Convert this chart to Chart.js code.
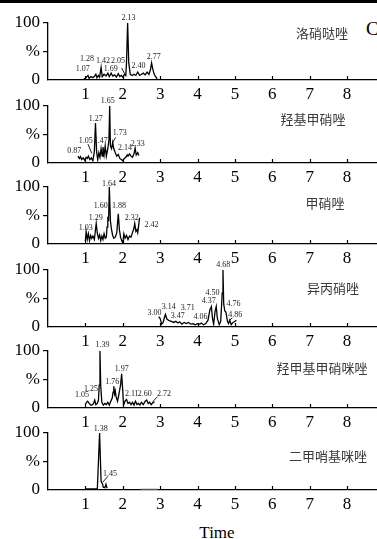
<!DOCTYPE html>
<html lang="zh">
<head>
<meta charset="UTF-8">
<title>色谱图</title>
<script src="https://cdn.jsdelivr.net/npm/chart.js"></script>
<style>
  body { margin: 0; background: #fff; }
  #wrap { position: relative; width: 377px; height: 539px; overflow: hidden; background: #fff; }
  #wrap canvas { position: absolute; left: 0; }
  .topline { position: absolute; left: 0; top: 0; width: 377px; height: 3px; background: #000; }
  .name {
    position: absolute; transform: translate(-50%, -50%); white-space: nowrap;
    font-family: 'Noto Sans CJK SC', sans-serif; font-size: 13px; color: #3a3a3a;
  }
  .serif { position: absolute; font-family: 'Liberation Serif', 'Times New Roman', serif; color: #000; }
</style>
</head>
<body>
<div id="wrap">
  <div class="topline"></div>
  <div class="serif" style="left:366px;top:18px;font-size:19px;">C</div>
  <div class="serif" style="left:217px;top:533px;font-size:17px;transform:translate(-50%,-50%);">Time</div>
</div>
<script>
// 化合物名称
const names = ['洛硝哒唑', '羟基甲硝唑', '甲硝唑', '异丙硝唑', '羟甲基甲硝咪唑', '二甲哨基咪唑'];
const xTicks = [1, 2, 3, 4, 5, 6, 7, 8];

// 色谱曲线 [时间, 相对强度%]
const trace1 = [[0.96,2],[1.0,3],[1.03,5],[1.07,8],[1.1,3],[1.15,6],[1.2,4],[1.25,7],[1.28,10],[1.31,4],[1.35,8],[1.38,5],[1.42,22],[1.45,6],[1.5,10],[1.55,7],[1.6,12],[1.64,6],[1.69,12],[1.73,7],[1.78,9],[1.83,5],[1.88,11],[1.92,6],[1.96,8],[2.0,5],[2.05,10],[2.08,8],[2.1,30],[2.13,100],[2.16,30],[2.2,10],[2.25,8],[2.3,10],[2.35,8],[2.4,14],[2.45,8],[2.5,10],[2.55,12],[2.6,9],[2.65,14],[2.7,10],[2.74,18],[2.77,30],[2.8,20],[2.84,10],[2.88,6],[2.92,2]];
const trace2 = [[0.8,12],[0.84,8],[0.87,11],[0.9,6],[0.94,9],[0.98,5],[1.02,10],[1.05,8],[1.08,12],[1.12,6],[1.16,9],[1.2,4],[1.24,20],[1.27,70],[1.3,20],[1.33,6],[1.36,18],[1.39,10],[1.42,25],[1.45,12],[1.47,28],[1.5,14],[1.53,30],[1.56,12],[1.6,25],[1.63,40],[1.65,100],[1.67,30],[1.7,25],[1.73,36],[1.76,25],[1.8,18],[1.84,12],[1.88,15],[1.92,8],[1.96,6],[2.0,4],[2.04,8],[2.08,10],[2.12,14],[2.14,12],[2.18,16],[2.22,12],[2.26,10],[2.3,16],[2.33,26],[2.36,14],[2.4,18],[2.43,13]];
const trace3 = [[1.0,5],[1.02,22],[1.05,8],[1.08,18],[1.11,6],[1.14,15],[1.17,10],[1.2,14],[1.24,8],[1.27,25],[1.29,36],[1.32,18],[1.35,10],[1.38,16],[1.41,6],[1.44,14],[1.47,8],[1.5,18],[1.53,10],[1.56,12],[1.58,30],[1.6,48],[1.62,40],[1.64,100],[1.67,40],[1.7,25],[1.73,15],[1.76,10],[1.8,12],[1.84,20],[1.88,53],[1.91,25],[1.94,12],[1.97,6],[2.0,2],[2.03,18],[2.06,10],[2.1,15],[2.14,8],[2.18,14],[2.22,12],[2.26,20],[2.3,28],[2.32,36],[2.35,22],[2.38,25],[2.4,20],[2.42,30],[2.45,46]];
const trace4 = [[2.96,18],[3.0,15],[3.04,5],[3.08,8],[3.12,18],[3.14,22],[3.18,14],[3.24,11],[3.3,10],[3.36,8],[3.42,10],[3.47,7],[3.52,9],[3.58,5],[3.64,8],[3.7,6],[3.76,8],[3.82,5],[3.88,6],[3.94,4],[4.0,6],[4.06,5],[4.1,7],[4.16,4],[4.22,6],[4.28,12],[4.33,30],[4.37,36],[4.4,15],[4.43,5],[4.47,28],[4.5,36],[4.53,15],[4.58,4],[4.62,10],[4.66,60],[4.68,100],[4.7,40],[4.73,28],[4.76,26],[4.8,10],[4.83,6],[4.86,12],[4.9,4],[4.95,8],[5.0,10],[5.04,12]];
const trace5 = [[1.0,6],[1.03,10],[1.06,12],[1.1,8],[1.15,5],[1.2,6],[1.23,10],[1.25,14],[1.28,6],[1.32,8],[1.35,14],[1.37,40],[1.39,100],[1.41,40],[1.44,10],[1.48,5],[1.52,8],[1.56,6],[1.6,10],[1.64,5],[1.68,12],[1.72,18],[1.74,28],[1.76,38],[1.78,25],[1.8,30],[1.82,20],[1.86,12],[1.9,25],[1.94,40],[1.97,60],[2.0,30],[2.02,5],[2.06,12],[2.1,15],[2.14,8],[2.18,10],[2.22,6],[2.26,10],[2.3,5],[2.34,12],[2.38,6],[2.42,8],[2.46,5],[2.5,10],[2.55,6],[2.6,12],[2.64,14],[2.68,8],[2.72,10],[2.76,6],[2.8,9],[2.85,11]];
const trace6 = [[1.0,2],[1.32,2],[1.38,100],[1.42,15],[1.45,12],[1.48,5],[1.52,4],[1.55,10],[1.58,3]];
const trace6b = [[2.48,1.5],[2.93,1.5]];

// 峰标注 [标注位置时间, 标注高度%, 文本]
const peaks1 = [[2.15,109,'2.13'],[1.04,37,'1.28'],[1.47,33,'1.42'],[1.87,33,'2.05'],[0.93,19,'1.07'],[1.68,19,'1.69'],[2.42,25,'2.40'],[2.83,40,'2.77']];
const peaks2 = [[1.6,109,'1.65'],[1.28,78,'1.27'],[1.01,38,'1.05'],[1.41,38,'1.47'],[1.92,52,'1.73'],[0.7,22,'0.87'],[2.06,26,'2.14'],[2.4,34,'2.33']];
const peaks3 = [[1.63,105,'1.64'],[1.41,67,'1.60'],[1.9,67,'1.88'],[1.28,45,'1.29'],[1.01,29,'1.03'],[2.24,45,'2.32'],[2.77,34,'2.42']];
const peaks4 = [[4.69,109,'4.68'],[4.4,60,'4.50'],[4.3,46,'4.37'],[4.96,40,'4.76'],[5.01,21,'4.86'],[2.85,25,'3.00'],[3.23,35,'3.14'],[3.47,19,'3.47'],[3.74,33,'3.71'],[4.08,18,'4.06']];
const peaks5 = [[1.46,110,'1.39'],[1.97,68,'1.97'],[1.72,45,'1.76'],[1.15,34,'1.25'],[0.91,23,'1.05'],[2.24,25,'2.11'],[2.59,25,'2.60'],[3.1,25,'2.72']];
const peaks6 = [[1.41,107,'1.38'],[1.66,29,'1.45']];

// 引线 [t1, y1, t2, y2]
const leaders1 = [[1.97,21,2.05,11]];
const leaders2 = [[1.07,33,1.17,17],[1.81,45,1.73,36]];
const leaders3 = [];
const leaders4 = [[4.93,16,4.86,12]];
const leaders5 = [[2.93,20,2.8,11]];
const leaders6 = [[1.6,24,1.47,14]];

const traces = [trace1, trace2, trace3, trace4, trace5, trace6];
const peakSets = [peaks1, peaks2, peaks3, peaks4, peaks5, peaks6];
const leaderSets = [leaders1, leaders2, leaders3, leaders4, leaders5, leaders6];

// 版面
const baselines = [80, 163, 244, 327, 408, 490];
const namePos = [[322,32],[313,118],[325,202],[333,287],[322,367],[328,455]];
const PAD_TOP = 15, PLOT_H = 57, AXIS_H = 24;
const serif = "'Liberation Serif', 'Times New Roman', serif";

const wrap = document.getElementById('wrap');

const extras = {
  id: 'extras',
  afterDraw(chart, args, opts) {
    const ctx = chart.ctx;
    const xs = chart.scales.x, ys = chart.scales.y;
    const bottom = chart.chartArea.bottom;
    ctx.save();
    ctx.strokeStyle = '#000';
    ctx.lineWidth = 1.2;
    // 内向刻度
    xTicks.forEach(v => {
      const px = Math.round(xs.getPixelForValue(v)) + 0.5;
      ctx.beginPath();
      ctx.moveTo(px, bottom);
      ctx.lineTo(px, bottom - 4);
      ctx.stroke();
    });
    // 引线
    ctx.lineWidth = 0.9;
    opts.leaders.forEach(l => {
      ctx.beginPath();
      ctx.moveTo(xs.getPixelForValue(l[0]), ys.getPixelForValue(l[1]));
      ctx.lineTo(xs.getPixelForValue(l[2]), ys.getPixelForValue(l[3]));
      ctx.stroke();
    });
    // 峰标注
    ctx.fillStyle = '#222';
    ctx.font = '8px ' + serif;
    ctx.textAlign = 'center';
    ctx.textBaseline = 'middle';
    opts.peaks.forEach(p => {
      ctx.fillText(p[2], xs.getPixelForValue(p[0]), ys.getPixelForValue(p[1]));
    });
    ctx.restore();
  }
};

traces.forEach((tr, i) => {
  const canvas = document.createElement('canvas');
  const h = PAD_TOP + PLOT_H + AXIS_H;
  canvas.width = 377;
  canvas.height = h;
  canvas.style.top = (baselines[i] - PLOT_H - PAD_TOP) + 'px';
  wrap.appendChild(canvas);

  const label = document.createElement('div');
  label.className = 'name';
  label.textContent = names[i];
  label.style.left = namePos[i][0] + 'px';
  label.style.top = namePos[i][1] + 'px';
  wrap.appendChild(label);

  const datasets = [{
    data: tr.map(p => ({x: p[0], y: p[1]})),
    borderColor: '#000',
    borderWidth: 1.3,
    pointRadius: 0,
    tension: 0,
    fill: false
  }];
  if (i === 5) {
    datasets.push({
      data: trace6b.map(p => ({x: p[0], y: p[1]})),
      borderColor: '#888',
      borderWidth: 1,
      pointRadius: 0,
      fill: false
    });
  }

  new Chart(canvas, {
    type: 'line',
    data: { datasets },
    plugins: [extras],
    options: {
      responsive: false,
      animation: false,
      layout: { padding: { top: PAD_TOP, left: 0, right: 0, bottom: 0 } },
      plugins: {
        legend: { display: false },
        tooltip: { enabled: false },
        extras: { peaks: peakSets[i], leaders: leaderSets[i] }
      },
      scales: {
        x: {
          type: 'linear',
          min: 0,
          max: 8.8,
          grid: { display: false, drawTicks: false },
          border: { display: true, color: '#000', width: 1.3 },
          afterBuildTicks: s => { s.ticks = xTicks.map(v => ({ value: v })); },
          ticks: {
            autoSkip: false,
            maxRotation: 0,
            padding: 4,
            color: '#000',
            font: { family: serif, size: 17 },
            callback: v => String(v)
          },
          afterFit: s => { s.height = AXIS_H; }
        },
        y: {
          min: 0,
          max: 100,
          grid: {
            drawOnChartArea: false,
            drawTicks: true,
            tickLength: 5,
            lineWidth: 1.2,
            color: c => (c.tick && c.tick.value === 0 ? 'rgba(0,0,0,0)' : '#000')
          },
          border: { display: true, color: '#000', width: 1.3 },
          ticks: {
            stepSize: 50,
            padding: 3,
            color: '#000',
            font: { family: serif, size: 17 },
            callback: v => (v === 100 ? '100' : v === 50 ? '%' : v === 0 ? '0' : '')
          },
          afterFit: s => { s.width = 48; }
        }
      }
    }
  });
});
</script>
</body>
</html>
